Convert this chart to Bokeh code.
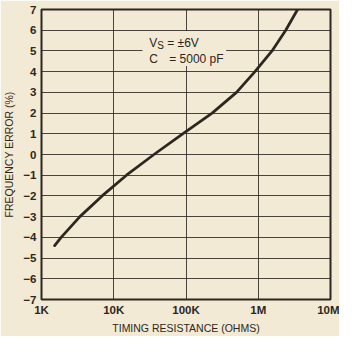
from bokeh.plotting import figure
from bokeh.models import FixedTicker, Label, BoxAnnotation, ColumnDataSource
from bokeh.embed import file_html
from bokeh.resources import INLINE

# data
resistance = [1.52e3, 1.87e3, 3.4e3, 6.9e3, 1.5e4, 3.6e4, 9.0e4, 2.3e5, 5.0e5, 9.0e5, 1.55e6, 2.4e6, 3.5e6]
freq_error = [-4.4, -4.0, -3.0, -2.0, -1.0, 0.0, 1.0, 2.0, 3.0, 4.0, 5.0, 6.0, 7.0]
x_ticks = [1e3, 1e4, 1e5, 1e6, 1e7]
x_tick_labels = ["1K", "10K", "100K", "1M", "10M"]
y_ticks = list(range(-7, 8))

BG = "#f2ead4"
INK = "#2d2722"
FONT = "Liberation Sans"

p = figure(x_axis_type="log", x_range=(1e3, 1e7), y_range=(-7, 7),
           width=339, height=336,
           min_border_left=35, min_border_right=9, min_border_top=9, min_border_bottom=33,
           output_backend="svg", toolbar_location=None)
p.background_fill_color = BG
p.border_fill_color = BG
p.outline_line_color = INK
p.outline_line_width = 2

for ax in (p.xaxis[0], p.yaxis[0]):
    ax.axis_line_color = None
    ax.major_tick_line_color = None
    ax.minor_tick_line_color = None
    ax.major_tick_out = 0
    ax.major_tick_in = 0
    ax.major_label_text_font = FONT
    ax.major_label_text_font_style = "bold"
    ax.major_label_text_font_size = "11.5px"
    ax.major_label_text_color = INK
    ax.axis_label_text_font = FONT
    ax.axis_label_text_font_style = "normal"
    ax.axis_label_text_font_size = "10.5px"
    ax.axis_label_text_color = INK

p.xaxis.ticker = FixedTicker(ticks=x_ticks)
p.xaxis.major_label_overrides = {t: l for t, l in zip(x_ticks, x_tick_labels)}
p.xaxis.major_label_standoff = 4
p.xaxis.axis_label = "TIMING RESISTANCE (OHMS)"
p.xaxis.axis_label_standoff = 3

p.yaxis.ticker = FixedTicker(ticks=y_ticks)
p.yaxis.major_label_standoff = 5
p.yaxis.axis_label = "FREQUENCY ERROR (%)"
p.yaxis.axis_label_standoff = 5

p.xgrid.ticker = FixedTicker(ticks=x_ticks)
p.ygrid.ticker = FixedTicker(ticks=y_ticks)
for g in (p.xgrid[0], p.ygrid[0]):
    g.grid_line_color = INK
    g.grid_line_alpha = 0.85
    g.grid_line_width = 1

src = ColumnDataSource(dict(x=resistance, y=freq_error))
p.line("x", "y", source=src, line_color=INK, line_width=2.8, line_join="round", line_cap="round")

# text box covering the grid
p.add_layout(BoxAnnotation(left=2.5e4, right=3.6e5, bottom=4.27, top=5.96,
                           fill_color=BG, fill_alpha=1.0, line_color=None))

txt = dict(text_font=FONT, text_font_size="12px", text_color=INK, text_baseline="middle")
p.add_layout(Label(x=3.1e4, y=5.4, text="V", **txt))
p.add_layout(Label(x=3.1e4, y=5.4, x_offset=8, y_offset=-3, text="S",
                   text_font=FONT, text_font_size="10px", text_color=INK, text_baseline="middle"))
p.add_layout(Label(x=3.1e4, y=5.4, x_offset=18, text="= \u00b16V", **txt))
p.add_layout(Label(x=3.1e4, y=4.6, text="C", **txt))
p.add_layout(Label(x=3.1e4, y=4.6, x_offset=20, text="= 5000 pF", **txt))

open("out.html", "w").write(file_html(p, INLINE))
